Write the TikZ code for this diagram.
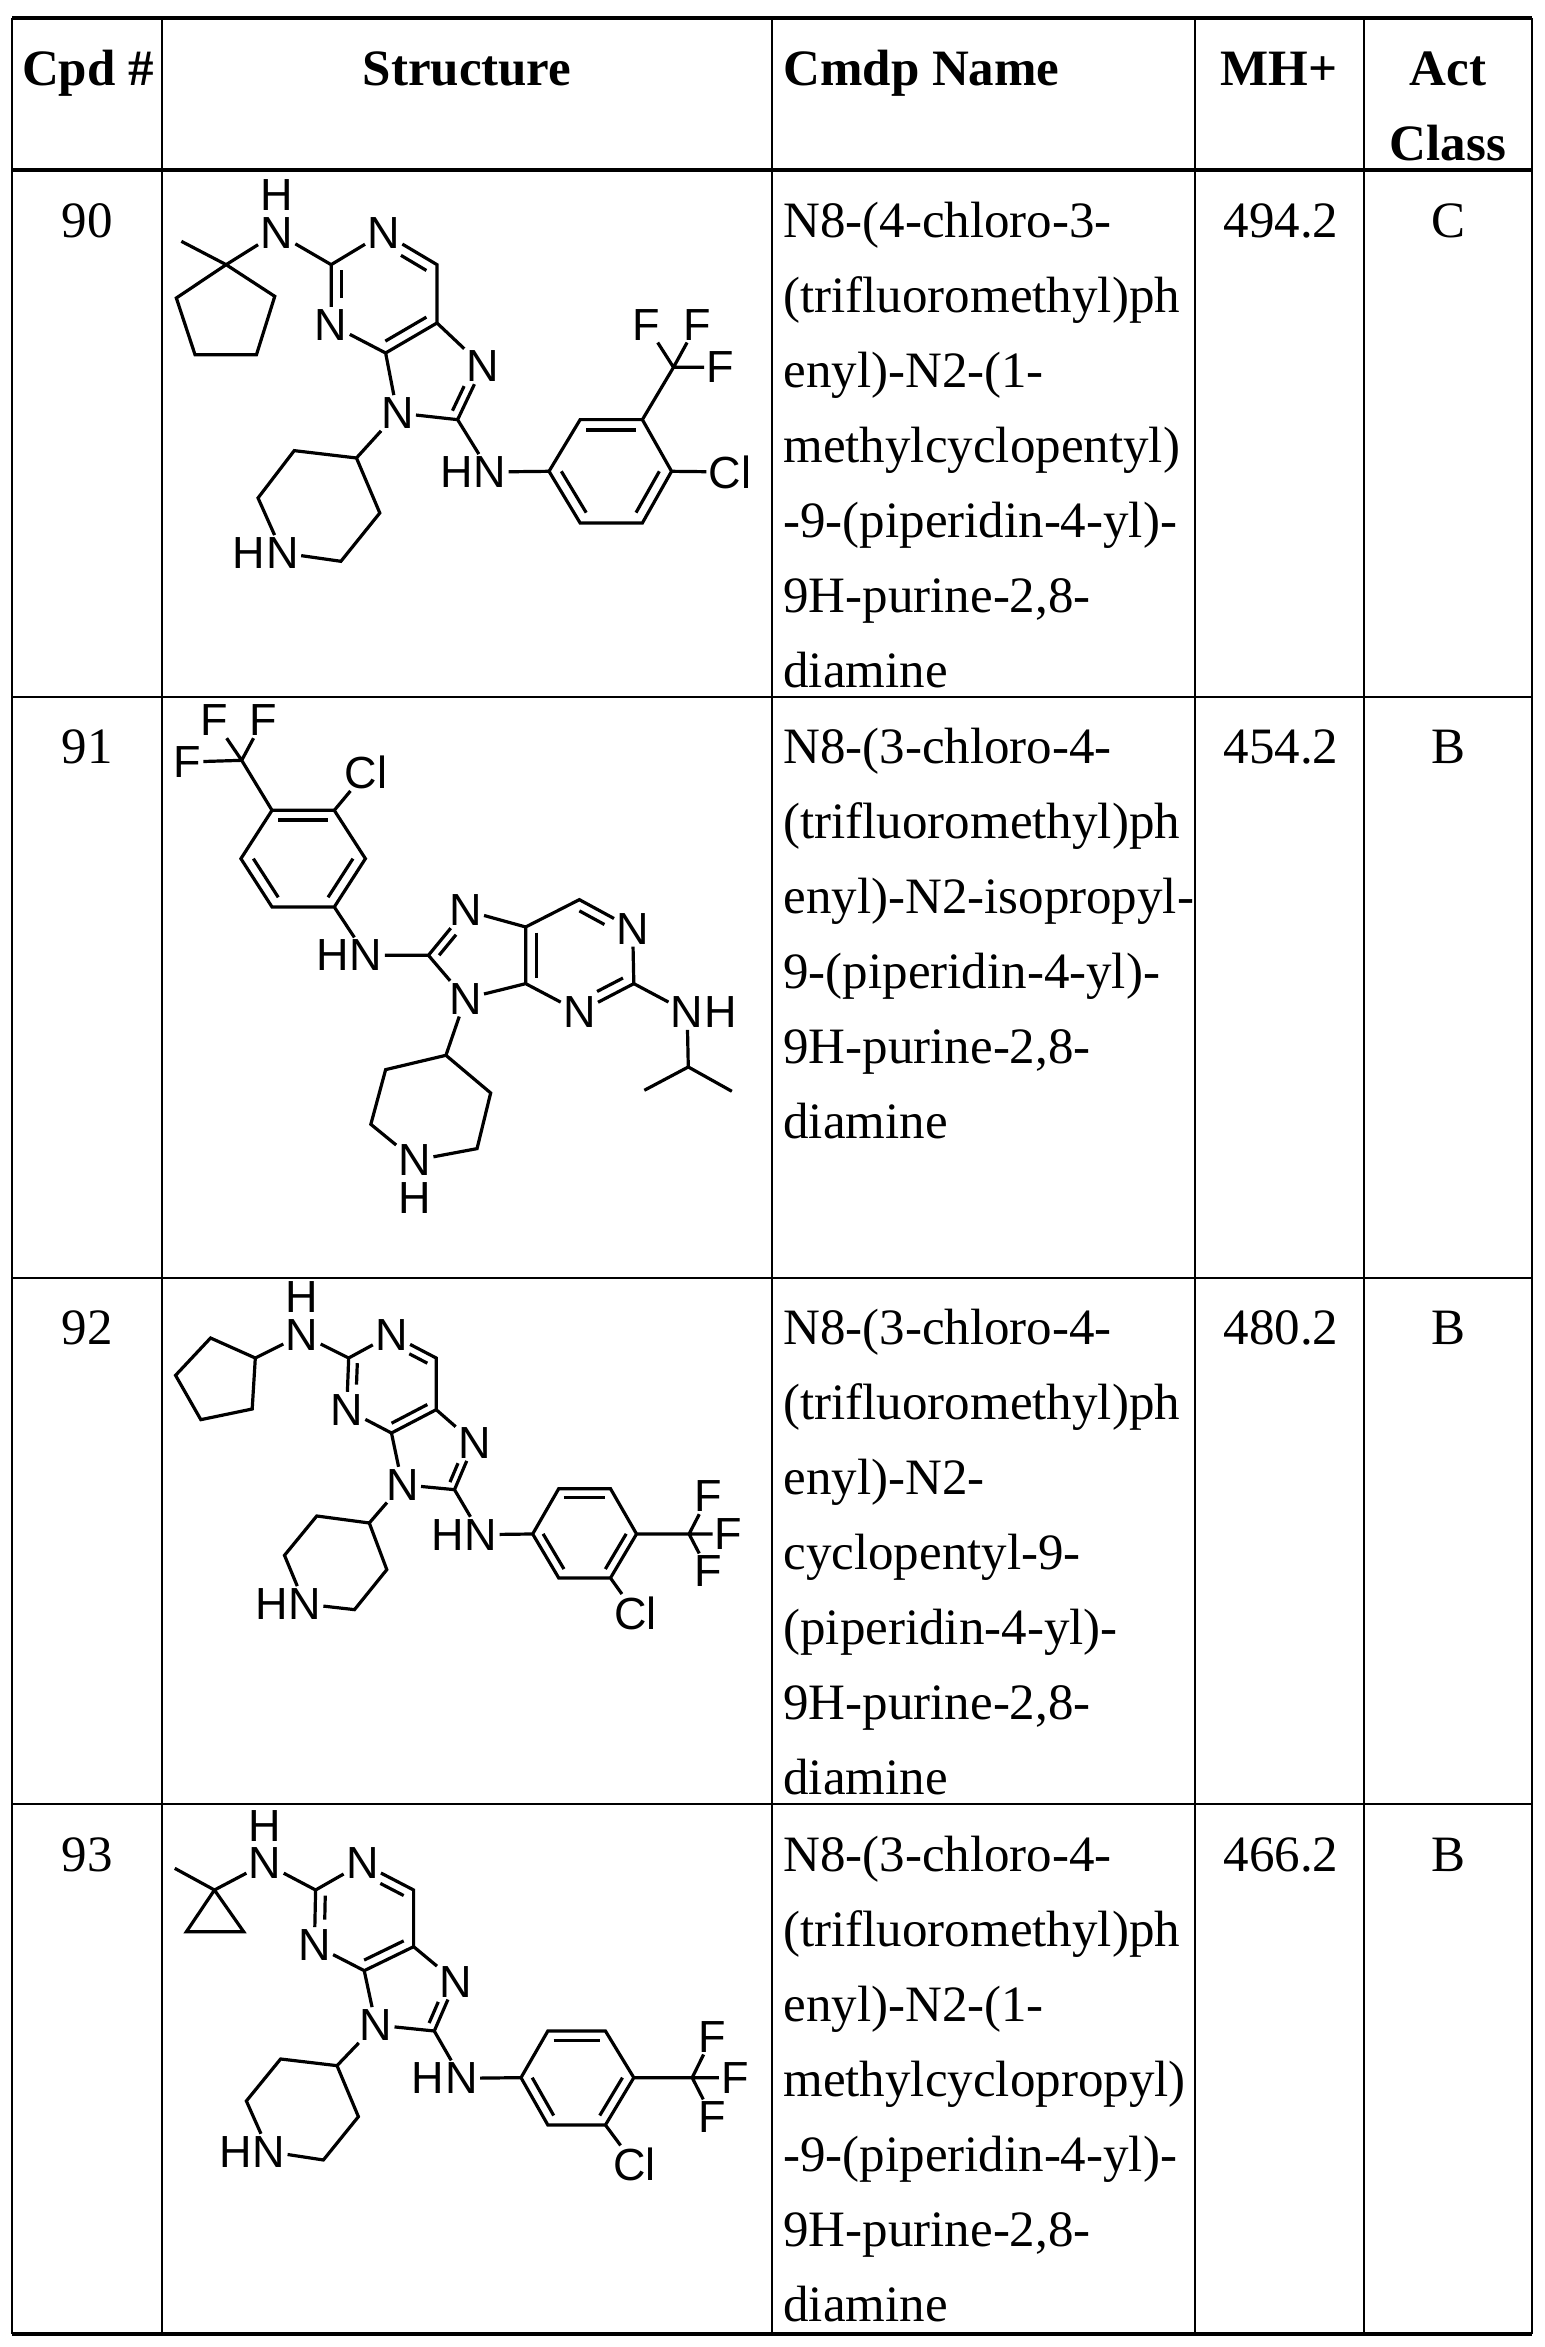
\documentclass[tikz,border=0pt]{standalone}
\usepackage{fontspec}
\setmainfont{Liberation Serif}
\newfontfamily\atomfont{Liberation Sans}
\usetikzlibrary{positioning,calc}

\tikzset{
  bond/.style={line width=1.6pt},
  atom/.style={font=\atomfont\fontsize{22.5}{24}\selectfont, inner sep=1pt},
  celltext/.style={font=\fontsize{25.5}{30}\selectfont, inner sep=0pt},
  headtext/.style={font=\fontsize{25.5}{30}\selectfont\bfseries, inner sep=0pt},
  rule/.style={line width=1pt},
  thickrule/.style={line width=1.8pt}
}
% inner line of a double bond, pulled towards the ring centre
\newcommand{\dbond}[4][]{\draw[bond,#1] ($(#2)!.2!(#4)$) -- ($(#3)!.2!(#4)$);}
% name column, one node per printed line
\newcommand{\cmpdname}[3]{%
  \foreach \ln [count=\i] in {#3}
    \node[celltext, anchor=base west] (#1-name-\i) at (783,#2+75*\i-75) {\ln};}

\begin{document}
\begin{tikzpicture}[x=0.5pt,y=-0.5pt]
\useasboundingbox (0,0) rectangle (1544,2347);

% table
\draw[thickrule] (12,18) -- (1532,18);
\draw[thickrule] (12,170) -- (1532,170);
\draw[rule] (12,697) -- (1532,697);
\draw[rule] (12,1278) -- (1532,1278);
\draw[rule] (12,1804) -- (1532,1804);
\draw[thickrule] (12,2334) -- (1532,2334);
\foreach \cx in {12,162,772,1195,1364,1532}
  \draw[rule] (\cx,18) -- (\cx,2334);

% header
\node[headtext, anchor=base] (h-cpd) at (88,85) {Cpd \#};
\node[headtext, anchor=base] (h-str) at (467,85) {Structure};
\node[headtext, anchor=base west] (h-name) at (783,85) {Cmdp Name};
\node[headtext, anchor=base] (h-mh) at (1279,85) {MH+};
\node[headtext, anchor=base] (h-act) at (1448,85) {Act};
\node[headtext, anchor=base] (h-cls) at (1448,160) {Class};

% rows
\node[celltext, anchor=base] (90-cpd) at (87,237) {90};
\node[celltext, anchor=base] (90-mh) at (1281,237) {494.2};
\node[celltext, anchor=base] (90-act) at (1448,237) {C};
\cmpdname{90}{237}{N8-(4-chloro-3-,(trifluoromethyl)ph,enyl)-N2-(1-,methylcyclopentyl),-9-(piperidin-4-yl)-,{9H-purine-2,8-},diamine}

\node[celltext, anchor=base] (91-cpd) at (87,763) {91};
\node[celltext, anchor=base] (91-mh) at (1281,763) {454.2};
\node[celltext, anchor=base] (91-act) at (1448,763) {B};
\cmpdname{91}{763}{N8-(3-chloro-4-,(trifluoromethyl)ph,enyl)-N2-isopropyl-,9-(piperidin-4-yl)-,{9H-purine-2,8-},diamine}

\node[celltext, anchor=base] (92-cpd) at (87,1344) {92};
\node[celltext, anchor=base] (92-mh) at (1281,1344) {480.2};
\node[celltext, anchor=base] (92-act) at (1448,1344) {B};
\cmpdname{92}{1344}{N8-(3-chloro-4-,(trifluoromethyl)ph,enyl)-N2-,cyclopentyl-9-,(piperidin-4-yl)-,{9H-purine-2,8-},diamine}

\node[celltext, anchor=base] (93-cpd) at (87,1871) {93};
\node[celltext, anchor=base] (93-mh) at (1281,1871) {466.2};
\node[celltext, anchor=base] (93-act) at (1448,1871) {B};
\cmpdname{93}{1871}{N8-(3-chloro-4-,(trifluoromethyl)ph,enyl)-N2-(1-,methylcyclopropyl),-9-(piperidin-4-yl)-,{9H-purine-2,8-},diamine}

% structure 90
\begin{scope}[shift={(160,168)}, xscale=0.389, yscale=0.3333]
  \coordinate (90-me) at (55,220);
  \coordinate (90-qc) at (170,290);
  \coordinate (90-cp2) at (295,385);
  \coordinate (90-cp3) at (248,560);
  \coordinate (90-cp4) at (90,560);
  \coordinate (90-cp5) at (42,390);
  \node[atom] (90-na) at (300,195) {N};
  \node[atom, above=1pt of 90-na] (90-ha) {H};
  \coordinate (90-c2) at (440,290);
  \node[atom] (90-n1) at (575,195) {N};
  \coordinate (90-c6) at (712,290);
  \coordinate (90-c5) at (712,465);
  \coordinate (90-c4) at (580,555);
  \node[atom] (90-n3) at (440,470) {N};
  \node[atom] (90-n7) at (830,595) {N};
  \coordinate (90-c8) at (765,755);
  \node[atom] (90-n9) at (610,735) {N};
  \coordinate (90-p1) at (505,870);
  \coordinate (90-p2) at (345,848);
  \coordinate (90-p3) at (252,990);
  \node[atom] (90-pn) at (315,1155) {N};
  \node[atom, left=-2pt of 90-pn] (90-ph) {H};
  \coordinate (90-p5) at (465,1180);
  \coordinate (90-p6) at (565,1035);
  \node[atom] (90-nb) at (848,912) {N};
  \node[atom, left=-2pt of 90-nb] (90-hb) {H};
  \coordinate (90-r1) at (1000,910);
  \coordinate (90-r2) at (1080,755);
  \coordinate (90-r3) at (1240,755);
  \coordinate (90-r4) at (1315,910);
  \coordinate (90-r5) at (1240,1065);
  \coordinate (90-r6) at (1080,1065);
  \coordinate (90-cf) at (1320,598);
  \node[atom] (90-f1) at (1250,470) {F};
  \node[atom] (90-f2) at (1380,470) {F};
  \node[atom] (90-f3) at (1440,598) {F};
  \node[atom] (90-cl) at (1465,912) {Cl};
  \coordinate (90-pyr) at (576,377);
  \coordinate (90-imi) at (699,621);
  \coordinate (90-ben) at (1158,910);
  \draw[bond] (90-me) -- (90-qc) -- (90-cp2) -- (90-cp3) -- (90-cp4) -- (90-cp5) -- (90-qc)
    (90-qc) -- (90-na) (90-na) -- (90-c2) (90-c2) -- (90-n1) (90-n1) -- (90-c6) -- (90-c5) -- (90-c4)
    (90-c4) -- (90-n3) (90-n3) -- (90-c2) (90-c5) -- (90-n7) (90-n7) -- (90-c8) (90-c8) -- (90-n9)
    (90-n9) -- (90-c4) (90-n9) -- (90-p1) (90-p1) -- (90-p2) -- (90-p3) -- (90-pn) (90-pn) -- (90-p5) -- (90-p6) -- (90-p1)
    (90-c8) -- (90-nb) (90-nb) -- (90-r1) (90-r1) -- (90-r2) -- (90-r3) -- (90-r4) -- (90-r5) -- (90-r6) -- (90-r1)
    (90-r3) -- (90-cf) (90-cf) -- (90-f1) (90-cf) -- (90-f2) (90-cf) -- (90-f3) (90-r4) -- (90-cl);
  \dbond[shorten >=10pt]{90-c2}{90-n3}{90-pyr}
  \dbond[shorten <=10pt]{90-n1}{90-c6}{90-pyr}
  \dbond{90-c4}{90-c5}{90-pyr}
  \dbond[shorten <=10pt]{90-n7}{90-c8}{90-imi}
  \dbond{90-r2}{90-r3}{90-ben}
  \dbond{90-r4}{90-r5}{90-ben}
  \dbond{90-r6}{90-r1}{90-ben}
\end{scope}

% structure 91
\begin{scope}[shift={(160,697)}, xscale=0.389, yscale=0.3333]
  \coordinate (91-cf) at (210,190);
  \node[atom] (91-f1) at (140,70) {F};
  \node[atom] (91-f2) at (265,70) {F};
  \node[atom] (91-f3) at (70,195) {F};
  \coordinate (91-r1) at (288,340);
  \coordinate (91-r2) at (448,340);
  \coordinate (91-r3) at (528,485);
  \coordinate (91-r4) at (448,630);
  \coordinate (91-r5) at (288,630);
  \coordinate (91-r6) at (208,485);
  \node[atom] (91-cl) at (530,225) {Cl};
  \node[atom] (91-nb) at (530,775) {N};
  \node[atom, left=-2pt of 91-nb] (91-hb) {H};
  \coordinate (91-c8) at (690,775);
  \node[atom] (91-n7) at (785,640) {N};
  \node[atom] (91-n9) at (785,905) {N};
  \coordinate (91-c5) at (940,690);
  \coordinate (91-c4) at (940,860);
  \coordinate (91-c6) at (1078,608);
  \node[atom] (91-n1) at (1215,695) {N};
  \coordinate (91-c2) at (1218,860);
  \node[atom] (91-n3) at (1078,945) {N};
  \node[atom] (91-na) at (1355,945) {N};
  \node[atom, right=-2pt of 91-na] (91-ha) {H};
  \coordinate (91-ip) at (1358,1110);
  \coordinate (91-m1) at (1245,1180);
  \coordinate (91-m2) at (1470,1183);
  \coordinate (91-p1) at (735,1075);
  \coordinate (91-p2) at (580,1118);
  \coordinate (91-p3) at (542,1282);
  \node[atom] (91-pn) at (655,1390) {N};
  \node[atom, below=1pt of 91-pn] (91-ph) {H};
  \coordinate (91-p5) at (815,1355);
  \coordinate (91-p6) at (850,1188);
  \coordinate (91-ben) at (368,485);
  \coordinate (91-imi) at (828,774);
  \coordinate (91-pyr) at (1078,776);
  \draw[bond] (91-cf) -- (91-f1) (91-cf) -- (91-f2) (91-cf) -- (91-f3) (91-cf) -- (91-r1)
    (91-r1) -- (91-r2) -- (91-r3) -- (91-r4) -- (91-r5) -- (91-r6) -- (91-r1) (91-r2) -- (91-cl)
    (91-r4) -- (91-nb) (91-nb) -- (91-c8) (91-c8) -- (91-n7) (91-n7) -- (91-c5) -- (91-c4) -- (91-n9)
    (91-n9) -- (91-c8) (91-c5) -- (91-c6) -- (91-n1) (91-n1) -- (91-c2) -- (91-n3) (91-n3) -- (91-c4)
    (91-c2) -- (91-na) (91-na) -- (91-ip) (91-ip) -- (91-m1) (91-ip) -- (91-m2)
    (91-n9) -- (91-p1) (91-p1) -- (91-p2) -- (91-p3) -- (91-pn) (91-pn) -- (91-p5) -- (91-p6) -- (91-p1);
  \dbond{91-r1}{91-r2}{91-ben}
  \dbond{91-r3}{91-r4}{91-ben}
  \dbond{91-r5}{91-r6}{91-ben}
  \dbond[shorten >=10pt]{91-c8}{91-n7}{91-imi}
  \dbond{91-c5}{91-c4}{91-pyr}
  \dbond[shorten >=10pt]{91-c6}{91-n1}{91-pyr}
  \dbond[shorten >=10pt]{91-c2}{91-n3}{91-pyr}
\end{scope}

% structure 92
\begin{scope}[shift={(160,1278)}, xscale=0.389, yscale=0.3333]
  \node[atom] (92-na) at (365,170) {N};
  \node[atom, above=1pt of 92-na] (92-ha) {H};
  \coordinate (92-ch) at (245,240);
  \coordinate (92-cp2) at (130,180);
  \coordinate (92-cp3) at (40,292);
  \coordinate (92-cp4) at (105,425);
  \coordinate (92-cp5) at (237,393);
  \coordinate (92-c2) at (485,240);
  \node[atom] (92-n1) at (595,170) {N};
  \coordinate (92-c6) at (710,240);
  \coordinate (92-c5) at (710,395);
  \coordinate (92-c4) at (595,465);
  \node[atom] (92-n3) at (480,395) {N};
  \node[atom] (92-n7) at (808,495) {N};
  \coordinate (92-c8) at (757,635);
  \node[atom] (92-n9) at (623,620) {N};
  \coordinate (92-p1) at (538,735);
  \coordinate (92-p2) at (403,714);
  \coordinate (92-p3) at (320,832);
  \node[atom] (92-pn) at (372,978) {N};
  \node[atom, left=-2pt of 92-pn] (92-ph) {H};
  \coordinate (92-p5) at (500,995);
  \coordinate (92-p6) at (583,875);
  \node[atom] (92-nb) at (825,770) {N};
  \node[atom, left=-2pt of 92-nb] (92-hb) {H};
  \coordinate (92-r1) at (958,768);
  \coordinate (92-r2) at (1025,632);
  \coordinate (92-r3) at (1158,632);
  \coordinate (92-r4) at (1225,768);
  \coordinate (92-r5) at (1158,900);
  \coordinate (92-r6) at (1025,900);
  \coordinate (92-cf) at (1360,768);
  \node[atom] (92-f1) at (1410,655) {F};
  \node[atom] (92-f2) at (1462,768) {F};
  \node[atom] (92-f3) at (1410,880) {F};
  \node[atom] (92-cl) at (1222,1005) {Cl};
  \coordinate (92-pyr) at (596,318);
  \coordinate (92-imi) at (699,522);
  \coordinate (92-ben) at (1092,766);
  \draw[bond] (92-ch) -- (92-cp2) -- (92-cp3) -- (92-cp4) -- (92-cp5) -- (92-ch) (92-ch) -- (92-na)
    (92-na) -- (92-c2) (92-c2) -- (92-n1) (92-n1) -- (92-c6) -- (92-c5) -- (92-c4) (92-c4) -- (92-n3) (92-n3) -- (92-c2)
    (92-c5) -- (92-n7) (92-n7) -- (92-c8) (92-c8) -- (92-n9) (92-n9) -- (92-c4)
    (92-n9) -- (92-p1) (92-p1) -- (92-p2) -- (92-p3) -- (92-pn) (92-pn) -- (92-p5) -- (92-p6) -- (92-p1)
    (92-c8) -- (92-nb) (92-nb) -- (92-r1) (92-r1) -- (92-r2) -- (92-r3) -- (92-r4) -- (92-r5) -- (92-r6) -- (92-r1)
    (92-r4) -- (92-cf) (92-cf) -- (92-f1) (92-cf) -- (92-f2) (92-cf) -- (92-f3) (92-r5) -- (92-cl);
  \dbond[shorten >=10pt]{92-c2}{92-n3}{92-pyr}
  \dbond[shorten <=10pt]{92-n1}{92-c6}{92-pyr}
  \dbond{92-c4}{92-c5}{92-pyr}
  \dbond[shorten <=10pt]{92-n7}{92-c8}{92-imi}
  \dbond{92-r2}{92-r3}{92-ben}
  \dbond{92-r4}{92-r5}{92-ben}
  \dbond{92-r6}{92-r1}{92-ben}
\end{scope}

% structure 93
\begin{scope}[shift={(160,1805)}, xscale=0.389, yscale=0.3333]
  \node[atom] (93-na) at (270,175) {N};
  \node[atom, above=1pt of 93-na] (93-ha) {H};
  \coordinate (93-me) at (38,190);
  \coordinate (93-qc) at (140,255);
  \coordinate (93-cp2) at (215,380);
  \coordinate (93-cp3) at (68,380);
  \coordinate (93-c2) at (400,255);
  \node[atom] (93-n1) at (520,175) {N};
  \coordinate (93-c6) at (652,255);
  \coordinate (93-c5) at (652,425);
  \coordinate (93-c4) at (525,497);
  \node[atom] (93-n3) at (397,420) {N};
  \node[atom] (93-n7) at (760,530) {N};
  \coordinate (93-c8) at (705,678);
  \node[atom] (93-n9) at (555,660) {N};
  \coordinate (93-p1) at (455,782);
  \coordinate (93-p2) at (310,762);
  \coordinate (93-p3) at (222,888);
  \node[atom] (93-pn) at (280,1040) {N};
  \node[atom, left=-2pt of 93-pn] (93-ph) {H};
  \coordinate (93-p5) at (420,1065);
  \coordinate (93-p6) at (510,935);
  \node[atom] (93-nb) at (775,820) {N};
  \node[atom, left=-2pt of 93-nb] (93-hb) {H};
  \coordinate (93-r1) at (928,818);
  \coordinate (93-r2) at (997,678);
  \coordinate (93-r3) at (1145,678);
  \coordinate (93-r4) at (1218,818);
  \coordinate (93-r5) at (1145,960);
  \coordinate (93-r6) at (997,960);
  \coordinate (93-cf) at (1368,818);
  \node[atom] (93-f1) at (1420,695) {F};
  \node[atom] (93-f2) at (1478,818) {F};
  \node[atom] (93-f3) at (1420,937) {F};
  \node[atom] (93-cl) at (1220,1078) {Cl};
  \coordinate (93-pyr) at (524,338);
  \coordinate (93-imi) at (639,558);
  \coordinate (93-ben) at (1072,818);
  \draw[bond] (93-me) -- (93-qc) -- (93-cp2) -- (93-cp3) -- (93-qc) (93-qc) -- (93-na)
    (93-na) -- (93-c2) (93-c2) -- (93-n1) (93-n1) -- (93-c6) -- (93-c5) -- (93-c4) (93-c4) -- (93-n3) (93-n3) -- (93-c2)
    (93-c5) -- (93-n7) (93-n7) -- (93-c8) (93-c8) -- (93-n9) (93-n9) -- (93-c4)
    (93-n9) -- (93-p1) (93-p1) -- (93-p2) -- (93-p3) -- (93-pn) (93-pn) -- (93-p5) -- (93-p6) -- (93-p1)
    (93-c8) -- (93-nb) (93-nb) -- (93-r1) (93-r1) -- (93-r2) -- (93-r3) -- (93-r4) -- (93-r5) -- (93-r6) -- (93-r1)
    (93-r4) -- (93-cf) (93-cf) -- (93-f1) (93-cf) -- (93-f2) (93-cf) -- (93-f3) (93-r5) -- (93-cl);
  \dbond[shorten >=10pt]{93-c2}{93-n3}{93-pyr}
  \dbond[shorten <=10pt]{93-n1}{93-c6}{93-pyr}
  \dbond{93-c4}{93-c5}{93-pyr}
  \dbond[shorten <=10pt]{93-n7}{93-c8}{93-imi}
  \dbond{93-r2}{93-r3}{93-ben}
  \dbond{93-r4}{93-r5}{93-ben}
  \dbond{93-r6}{93-r1}{93-ben}
\end{scope}
\end{tikzpicture}
\end{document}
